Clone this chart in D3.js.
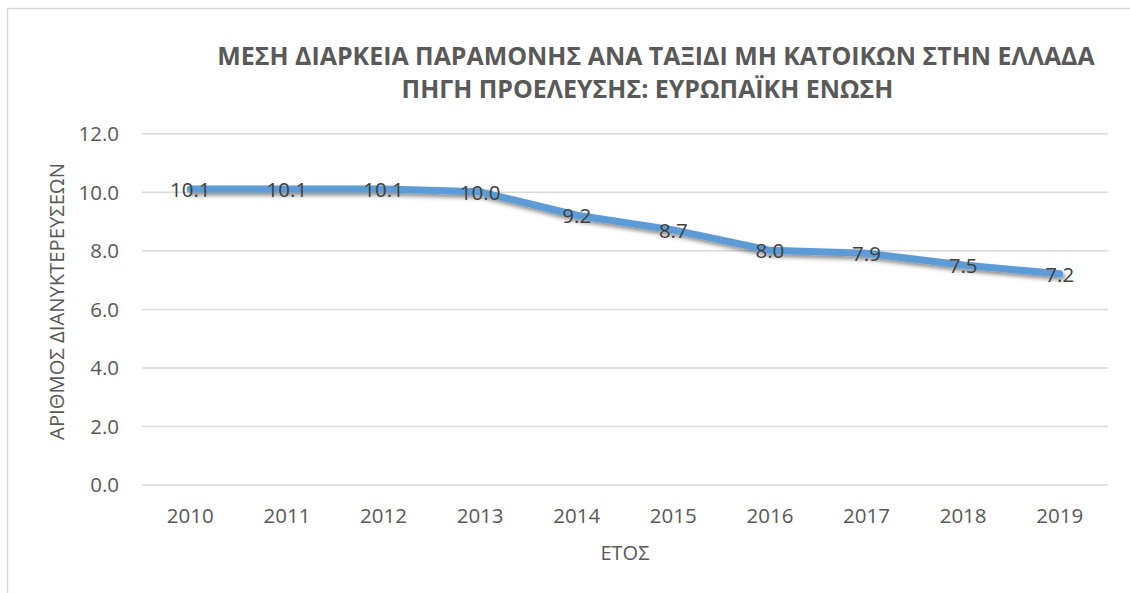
<!DOCTYPE html>
<html>
<head>
<meta charset="utf-8">
<script src="https://cdn.jsdelivr.net/npm/d3@7"></script>
<style>
  html, body { margin: 0; padding: 0; background: #fff; }
  svg { display: block; }
  text { font-family: "Open Sans", "Noto Sans", sans-serif; }
</style>
</head>
<body>
<svg id="chart" width="1130" height="593"></svg>
<script>
const years = ["2010","2011","2012","2013","2014","2015","2016","2017","2018","2019"];
const values = [10.1, 10.1, 10.1, 10.0, 9.2, 8.7, 8.0, 7.9, 7.5, 7.2];
const yTicks = [0, 2, 4, 6, 8, 10, 12];
const titleLines = ["ΜΕΣΗ ΔΙΑΡΚΕΙΑ ΠΑΡΑΜΟΝΗΣ ΑΝΑ ΤΑΞΙΔΙ ΜΗ ΚΑΤΟΙΚΩΝ ΣΤΗΝ ΕΛΛΑΔΑ", "ΠΗΓΗ ΠΡΟΕΛΕΥΣΗΣ: ΕΥΡΩΠΑΪΚΗ ΕΝΩΣΗ"];
const yTitle = "ΑΡΙΘΜΟΣ ΔΙΑΝΥΚΤΕΡΕΥΣΕΩΝ";
const xTitle = "ΕΤΟΣ";

const svg = d3.select("#chart");
const plot = {left: 142, right: 1108, top: 133.3, bottom: 484.5};

// chart frame (only left/top edges visible in the viewport)
svg.append("rect")
  .attr("x", 7.5).attr("y", 8.5)
  .attr("width", 1200).attr("height", 700)
  .attr("fill", "#fff").attr("stroke", "#d9d9d9").attr("stroke-width", 1.5);

const defs = svg.append("defs");
const f = defs.append("filter").attr("id", "shadow")
  .attr("x", "-10%").attr("y", "-50%").attr("width", "120%").attr("height", "200%");
f.append("feDropShadow").attr("dx", 2).attr("dy", 3).attr("stdDeviation", 2)
  .attr("flood-color", "#000").attr("flood-opacity", 0.45);

const x = d3.scaleBand().domain(years).range([plot.left, plot.right]);
const y = d3.scaleLinear().domain([0, 12]).range([plot.bottom, plot.top]);

// gridlines
const yAxis = d3.axisLeft(y).tickValues(yTicks)
  .tickSize(-(plot.right - plot.left)).tickPadding(23)
  .tickFormat(d3.format(".1f"));
const gy = svg.append("g").attr("transform", `translate(${plot.left},0)`).call(yAxis);
gy.select(".domain").remove();
gy.selectAll(".tick line").attr("stroke", "#d9d9d9").attr("stroke-width", 1.5);
gy.selectAll(".tick text").attr("fill", "#595959").attr("font-size", 20.5)
  .attr("font-family", "'Open Sans', sans-serif").attr("dy", "0.36em");

// x axis labels
const xAxis = d3.axisBottom(x).tickSize(0).tickPadding(0);
const gx = svg.append("g").attr("transform", `translate(0,${plot.bottom})`).call(xAxis);
gx.select(".domain").remove();
gx.selectAll(".tick text").attr("fill", "#595959").attr("font-size", 20.5)
  .attr("font-family", "'Open Sans', sans-serif").attr("dy", null).attr("y", 38.5);

const cx = d => x(d) + x.bandwidth() / 2;

// line
const line = d3.line().x((d, i) => cx(years[i])).y(d => y(d));
svg.append("path").datum(values)
  .attr("d", line)
  .attr("fill", "none").attr("stroke", "#5b9bd5").attr("stroke-width", 7)
  .attr("stroke-linejoin", "round").attr("stroke-linecap", "round")
  .attr("filter", "url(#shadow)");

// data labels
svg.append("g").selectAll("text").data(values).join("text")
  .attr("x", (d, i) => cx(years[i]))
  .attr("y", d => y(d) + 8)
  .attr("text-anchor", "middle")
  .attr("fill", "#404040").attr("font-size", 20.5)
  .text(d => d3.format(".1f")(d));

function fit(sel, target) {
  const fs = +sel.attr("font-size");
  const w = sel.node().getComputedTextLength();
  if (w > 0) sel.attr("font-size", fs * target / w);
}

// title
const t1 = svg.append("text").attr("x", 656).attr("y", 64.5)
  .attr("text-anchor", "middle").attr("font-weight", "bold")
  .attr("fill", "#595959").attr("font-size", 27).text(titleLines[0]);
fit(t1, 878);
const t2 = svg.append("text").attr("x", 647.5).attr("y", 97.5)
  .attr("text-anchor", "middle").attr("font-weight", "bold")
  .attr("fill", "#595959").attr("font-size", t1.attr("font-size")).text(titleLines[1]);

// axis titles
const yt = svg.append("text")
  .attr("transform", `translate(64,${(163 + 440) / 2}) rotate(-90)`)
  .attr("text-anchor", "middle").attr("fill", "#595959")
  .attr("font-size", 20).text(yTitle);
fit(yt, 277);

svg.append("text").attr("x", 625).attr("y", 560)
  .attr("text-anchor", "middle").attr("fill", "#595959")
  .attr("font-size", 20).text(xTitle);
</script>
</body>
</html>
